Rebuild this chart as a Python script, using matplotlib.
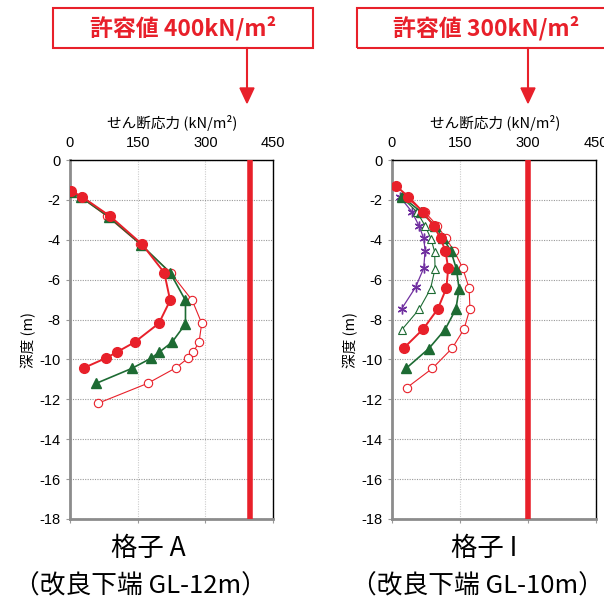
import matplotlib
matplotlib.use("Agg")
import matplotlib.pyplot as plt
from matplotlib.patches import Rectangle

plt.rcParams['font.family'] = ['Liberation Sans', 'Noto Sans CJK JP', 'DejaVu Sans']

RED = '#E8202A'
GREEN = '#1D6B33'
PURPLE = '#7030A0'

# ---------- data: panel A (改良下端 GL-12m) ----------
A_red_fill_depth = [-1.55, -1.85, -2.82, -4.23, -5.65, -7.04, -8.19, -9.14, -9.63, -9.93, -10.43]
A_red_fill_val = [3, 27, 89, 160, 209, 222, 197, 143, 104, 80, 30]
A_green_fill_depth = [-1.6, -1.88, -2.85, -4.25, -5.65, -7.04, -8.22, -9.14, -9.65, -9.95, -10.45, -11.2]
A_green_fill_val = [3, 25, 86, 158, 222, 256, 256, 226, 197, 179, 137, 58]
A_red_open_depth = [-1.6, -1.88, -2.82, -4.23, -5.65, -7.04, -8.19, -9.14, -9.63, -9.93, -10.43, -11.2, -12.2]
A_red_open_val = [3, 25, 82, 156, 223, 271, 292, 286, 273, 262, 234, 172, 62]

# ---------- data: panel I (改良下端 GL-10m) ----------
I_red_fill_depth = [-1.3, -1.84, -2.6, -3.3, -3.93, -4.57, -5.43, -6.42, -7.47, -8.47, -9.43]
I_red_fill_val = [9, 36, 68, 92, 107, 118, 124, 120, 101, 69, 26]
I_red_open_depth = [-1.84, -2.6, -3.3, -3.93, -4.56, -5.42, -6.42, -7.45, -8.47, -9.43, -10.45, -11.43]
I_red_open_val = [28, 72, 100, 119, 137, 156, 170, 172, 159, 133, 89, 32]
I_green_fill_depth = [-1.84, -2.6, -3.3, -3.93, -4.57, -5.46, -6.46, -7.47, -8.5, -9.46, -10.45]
I_green_fill_val = [22, 64, 95, 113, 130, 142, 148, 141, 117, 81, 31]
I_green_open_depth = [-1.84, -2.6, -3.3, -3.95, -4.6, -5.45, -6.46, -7.48, -8.5]
I_green_open_val = [20, 55, 73, 86, 94, 95, 85, 60, 22]
I_purple_depth = [-1.84, -2.6, -3.32, -3.93, -4.54, -5.42, -6.38, -7.47]
I_purple_val = [17, 44, 60, 70, 73, 70, 52, 21]

x_ticks = [0, 150, 300, 450]
y_ticks = [0, -2, -4, -6, -8, -10, -12, -14, -16, -18]

W, H = 604, 603
fig = plt.figure(figsize=(W / 100, H / 100), dpi=100)


def fx(px):
    return px / W


def fy(py):
    return 1 - py / H


def make_axes(left_px, right_px):
    ax = fig.add_axes([fx(left_px), fy(519), (right_px - left_px) / W, (519 - 160) / H])
    ax.set_xlim(0, 450)
    ax.set_ylim(-18, 0)
    ax.set_xticks(x_ticks)
    ax.set_yticks(y_ticks)
    ax.set_yticklabels([str(v) for v in y_ticks])
    ax.tick_params(axis='x', top=False, labeltop=True, bottom=True, labelbottom=False,
                   length=3, color='#999999', labelsize=10.5, pad=4)
    ax.tick_params(axis='y', left=True, length=3, color='#999999', labelsize=10.5, pad=4)
    ax.grid(axis='y', linestyle=(0, (1, 1.2)), color='#999999', linewidth=0.8)
    ax.grid(axis='x', linestyle=(0, (1, 1.2)), color='#cccccc', linewidth=0.8)
    ax.set_axisbelow(True)
    for s in ('left', 'bottom'):
        ax.spines[s].set_color('#8c8c8c')
        ax.spines[s].set_linewidth(2.0)
    for s in ('top', 'right'):
        ax.spines[s].set_color('black')
        ax.spines[s].set_linewidth(1.0)
    ax.set_ylabel('深度 (m)', fontsize=10.5, family=['Noto Sans CJK JP'], labelpad=2)
    return ax


def red_fill(ax, v, d):
    ax.plot(v, d, color=RED, lw=1.4, marker='o', ms=7, mfc=RED, mec=RED, zorder=5)


def red_open(ax, v, d):
    ax.plot(v, d, color=RED, lw=0.8, marker='o', ms=6, mfc='white', mec=RED, mew=0.8, zorder=4)


def green_fill(ax, v, d):
    ax.plot(v, d, color=GREEN, lw=1.2, marker='^', ms=6.5, mfc=GREEN, mec=GREEN, zorder=4)


def green_open(ax, v, d):
    ax.plot(v, d, color=GREEN, lw=0.8, marker='^', ms=6, mfc='white', mec=GREEN, mew=0.8, zorder=3)


def purple(ax, v, d):
    ax.plot(v, d, color=PURPLE, lw=0.9, marker=(6, 2, 0), ms=7, mec=PURPLE, mew=1.0, zorder=3)


# panel A
axA = make_axes(70, 273)
axA.axvline(400, color=RED, lw=4, zorder=6)
red_open(axA, A_red_open_val, A_red_open_depth)
green_fill(axA, A_green_fill_val, A_green_fill_depth)
red_fill(axA, A_red_fill_val, A_red_fill_depth)

# panel I
axI = make_axes(392, 596)
axI.axvline(300, color=RED, lw=4, zorder=6)
purple(axI, I_purple_val, I_purple_depth)
green_open(axI, I_green_open_val, I_green_open_depth)
red_open(axI, I_red_open_val, I_red_open_depth)
green_fill(axI, I_green_fill_val, I_green_fill_depth)
red_fill(axI, I_red_fill_val, I_red_fill_depth)

cjk = ['Noto Sans CJK JP', 'DejaVu Sans']

# axis titles
fig.text(fx(172), fy(123), 'せん断応力 (kN/m²)', ha='center', va='center', fontsize=10.5, family=cjk)
fig.text(fx(495), fy(123), 'せん断応力 (kN/m²)', ha='center', va='center', fontsize=10.5, family=cjk)

# boxes and arrows
for (bx0, bx1, label, ax_x) in [(53, 313, '許容値 400kN/m²', 247), (357, 616, '許容値 300kN/m²', 528)]:
    fig.patches.append(Rectangle((fx(bx0), fy(48)), (bx1 - bx0) / W, 40 / H,
                                 transform=fig.transFigure, fill=False,
                                 edgecolor=RED, linewidth=1.5, clip_on=False))
    fig.text(fx((bx0 + bx1) / 2), fy(28), label, ha='center', va='center',
             fontsize=16.5, color=RED, fontweight='bold', family=cjk)
    fig.lines.append(plt.Line2D([fx(ax_x), fx(ax_x)], [fy(48), fy(90)],
                                transform=fig.transFigure, color=RED, lw=1.5))
    fig.patches.append(plt.Polygon([[fx(ax_x - 7), fy(88)], [fx(ax_x + 7), fy(88)], [fx(ax_x), fy(103)]],
                                   closed=True, transform=fig.transFigure, color=RED))

# panel captions
fig.text(fx(148), fy(548), '格子 A', ha='center', va='center', fontsize=19, family=cjk)
fig.text(fx(140), fy(587), '（改良下端 GL-12m）', ha='center', va='center', fontsize=18.5, family=cjk)
fig.text(fx(484), fy(548), '格子 I', ha='center', va='center', fontsize=19, family=cjk)
fig.text(fx(477), fy(587), '（改良下端 GL-10m）', ha='center', va='center', fontsize=18.5, family=cjk)

fig.savefig('out.png', dpi=100)
